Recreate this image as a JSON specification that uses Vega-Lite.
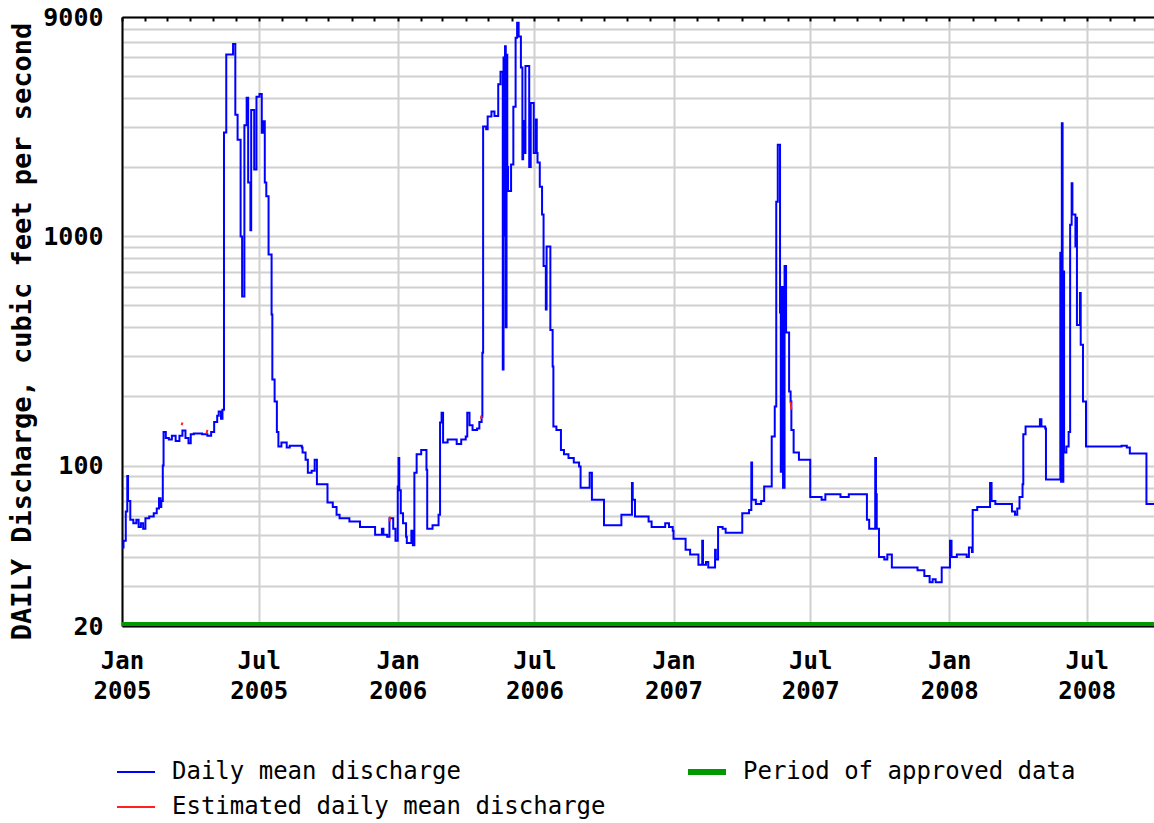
{
  "$schema": "https://vega.github.io/schema/vega-lite/v6.json",
  "width": 1032,
  "height": 609,
  "autosize": {"type": "none"},
  "padding": {"left": 122, "top": 17, "right": 0, "bottom": 197},
  "background": "white",
  "config": {
    "view": {"stroke": null},
    "font": "DejaVu Sans Mono",
    "legend": {
      "orient": "none",
      "direction": "horizontal",
      "legendX": 2,
      "legendY": 743,
      "title": null,
      "columns": 2,
      "padding": 0,
      "symbolType": "stroke",
      "symbolSize": 1444,
      "symbolStrokeWidth": 2,
      "labelFont": "DejaVu Sans Mono",
      "labelFontSize": 24,
      "labelColor": "#000000",
      "labelLimit": 800,
      "labelOffset": 24,
      "rowPadding": 11,
      "columnPadding": 70
    }
  },
  "datasets": {
    "daily": [
      {"date":"2005-01-01","q":44},{"date":"2005-01-03","q":47},{"date":"2005-01-06","q":63},{"date":"2005-01-08","q":90},{"date":"2005-01-09","q":70},{"date":"2005-01-12","q":58},{"date":"2005-01-16","q":56},{"date":"2005-01-20","q":58},{"date":"2005-01-23","q":54},{"date":"2005-01-26","q":56},{"date":"2005-01-29","q":53},
      {"date":"2005-02-01","q":59},{"date":"2005-02-06","q":60},{"date":"2005-02-12","q":62},{"date":"2005-02-16","q":65},{"date":"2005-02-19","q":72},{"date":"2005-02-21","q":66},{"date":"2005-02-22","q":70},{"date":"2005-02-24","q":100},{"date":"2005-02-25","q":140},{"date":"2005-02-28","q":132},
      {"date":"2005-03-04","q":130},{"date":"2005-03-08","q":135},{"date":"2005-03-13","q":128},{"date":"2005-03-18","q":135},{"date":"2005-03-22","q":142},{"date":"2005-03-26","q":132},{"date":"2005-03-30","q":125},
      {"date":"2005-04-02","q":137},{"date":"2005-04-06","q":138},{"date":"2005-04-17","q":137},{"date":"2005-04-24","q":135},{"date":"2005-04-29","q":140},
      {"date":"2005-05-03","q":155},{"date":"2005-05-07","q":165},{"date":"2005-05-09","q":172},{"date":"2005-05-12","q":160},{"date":"2005-05-14","q":175},{"date":"2005-05-16","q":2825},{"date":"2005-05-19","q":6180},{"date":"2005-05-28","q":6860},{"date":"2005-05-31","q":3380},
      {"date":"2005-06-03","q":2630},{"date":"2005-06-07","q":995},{"date":"2005-06-09","q":545},{"date":"2005-06-12","q":3040},{"date":"2005-06-15","q":4000},{"date":"2005-06-17","q":1710},{"date":"2005-06-20","q":1060},{"date":"2005-06-21","q":3540},{"date":"2005-06-25","q":1950},{"date":"2005-06-28","q":4040},
      {"date":"2005-07-02","q":4160},{"date":"2005-07-05","q":2820},{"date":"2005-07-07","q":3160},{"date":"2005-07-09","q":1710},{"date":"2005-07-11","q":1490},{"date":"2005-07-14","q":830},{"date":"2005-07-18","q":455},{"date":"2005-07-19","q":237},{"date":"2005-07-22","q":190},{"date":"2005-07-25","q":140},{"date":"2005-07-27","q":121},{"date":"2005-07-31","q":126},
      {"date":"2005-08-07","q":120},{"date":"2005-08-11","q":122},{"date":"2005-08-27","q":120},{"date":"2005-08-28","q":114},
      {"date":"2005-09-01","q":106},{"date":"2005-09-04","q":93},{"date":"2005-09-09","q":95},{"date":"2005-09-13","q":106},{"date":"2005-09-16","q":83},{"date":"2005-09-30","q":69},
      {"date":"2005-10-07","q":66},{"date":"2005-10-12","q":61},{"date":"2005-10-16","q":59},{"date":"2005-10-29","q":57},
      {"date":"2005-11-12","q":54},{"date":"2005-12-02","q":50},{"date":"2005-12-11","q":53},{"date":"2005-12-13","q":50},{"date":"2005-12-18","q":49},{"date":"2005-12-21","q":59},{"date":"2005-12-26","q":53},{"date":"2005-12-29","q":47},
      {"date":"2006-01-01","q":81},{"date":"2006-01-02","q":108},{"date":"2006-01-03","q":78},{"date":"2006-01-05","q":62},{"date":"2006-01-08","q":56},{"date":"2006-01-12","q":49},{"date":"2006-01-13","q":46},{"date":"2006-01-19","q":52},{"date":"2006-01-21","q":45},{"date":"2006-01-23","q":93},{"date":"2006-01-26","q":112},
      {"date":"2006-02-01","q":117},{"date":"2006-02-08","q":96},{"date":"2006-02-09","q":53},{"date":"2006-02-16","q":55},{"date":"2006-02-24","q":61},{"date":"2006-02-26","q":154},{"date":"2006-02-28","q":170},
      {"date":"2006-03-02","q":126},{"date":"2006-03-08","q":130},{"date":"2006-03-20","q":124},{"date":"2006-03-26","q":130},
      {"date":"2006-04-01","q":134},{"date":"2006-04-03","q":170},{"date":"2006-04-06","q":150},{"date":"2006-04-10","q":143},{"date":"2006-04-16","q":145},{"date":"2006-04-19","q":155},{"date":"2006-04-22","q":163},{"date":"2006-04-23","q":310},{"date":"2006-04-24","q":3000},{"date":"2006-04-28","q":2920},{"date":"2006-04-30","q":3320},
      {"date":"2006-05-05","q":3490},{"date":"2006-05-09","q":3330},{"date":"2006-05-14","q":4580},{"date":"2006-05-17","q":5200},{"date":"2006-05-20","q":262},{"date":"2006-05-21","q":6000},{"date":"2006-05-22","q":1000},{"date":"2006-05-23","q":6710},{"date":"2006-05-24","q":400},{"date":"2006-05-25","q":6170},{"date":"2006-05-26","q":2000},{"date":"2006-05-27","q":1570},{"date":"2006-05-31","q":2050},
      {"date":"2006-06-03","q":3660},{"date":"2006-06-06","q":7300},{"date":"2006-06-08","q":8500},{"date":"2006-06-10","q":7400},{"date":"2006-06-13","q":5420},{"date":"2006-06-15","q":2160},{"date":"2006-06-16","q":3170},{"date":"2006-06-17","q":2300},{"date":"2006-06-19","q":5500},{"date":"2006-06-24","q":2000},{"date":"2006-06-26","q":3800},{"date":"2006-06-30","q":2300},
      {"date":"2006-07-03","q":3220},{"date":"2006-07-04","q":2300},{"date":"2006-07-05","q":2090},{"date":"2006-07-08","q":1640},{"date":"2006-07-11","q":1240},{"date":"2006-07-13","q":740},{"date":"2006-07-16","q":478},{"date":"2006-07-17","q":900},{"date":"2006-07-22","q":390},{"date":"2006-07-25","q":270},{"date":"2006-07-26","q":148},{"date":"2006-07-30","q":143},
      {"date":"2006-08-05","q":117},{"date":"2006-08-09","q":112},{"date":"2006-08-15","q":108},{"date":"2006-08-22","q":103},{"date":"2006-08-29","q":99},{"date":"2006-08-31","q":80},
      {"date":"2006-09-12","q":93},{"date":"2006-09-15","q":71},{"date":"2006-10-01","q":55},{"date":"2006-10-24","q":61},
      {"date":"2006-11-07","q":84},{"date":"2006-11-08","q":71},{"date":"2006-11-11","q":60},{"date":"2006-11-29","q":57},{"date":"2006-12-03","q":54},{"date":"2006-12-21","q":56},{"date":"2006-12-26","q":54},{"date":"2006-12-31","q":52},
      {"date":"2007-01-01","q":48},{"date":"2007-01-17","q":43},{"date":"2007-01-23","q":41},{"date":"2007-02-03","q":37},{"date":"2007-02-08","q":47},{"date":"2007-02-09","q":37},{"date":"2007-02-13","q":38},{"date":"2007-02-16","q":36},{"date":"2007-02-25","q":43},{"date":"2007-02-26","q":39},
      {"date":"2007-03-01","q":54},{"date":"2007-03-07","q":53},{"date":"2007-03-11","q":51},{"date":"2007-04-02","q":62},{"date":"2007-04-11","q":64},{"date":"2007-04-14","q":103},{"date":"2007-04-15","q":71},{"date":"2007-04-20","q":68},{"date":"2007-04-27","q":70},
      {"date":"2007-05-01","q":81},{"date":"2007-05-11","q":134},{"date":"2007-05-15","q":181},{"date":"2007-05-17","q":1410},{"date":"2007-05-19","q":2500},{"date":"2007-05-22","q":464},{"date":"2007-05-23","q":94},{"date":"2007-05-24","q":600},{"date":"2007-05-26","q":80},{"date":"2007-05-28","q":740},{"date":"2007-05-30","q":380},
      {"date":"2007-06-03","q":210},{"date":"2007-06-05","q":190},{"date":"2007-06-06","q":143},{"date":"2007-06-09","q":114},{"date":"2007-06-16","q":106},
      {"date":"2007-07-01","q":73},{"date":"2007-07-16","q":71},{"date":"2007-07-21","q":75},{"date":"2007-08-10","q":73},{"date":"2007-08-21","q":75},
      {"date":"2007-09-14","q":58},{"date":"2007-09-17","q":53},{"date":"2007-09-25","q":108},{"date":"2007-09-26","q":75},{"date":"2007-09-27","q":53},{"date":"2007-09-30","q":40},
      {"date":"2007-10-07","q":39},{"date":"2007-10-11","q":41},{"date":"2007-10-17","q":36},{"date":"2007-11-20","q":35},{"date":"2007-11-29","q":33},{"date":"2007-12-06","q":31},{"date":"2007-12-10","q":32},{"date":"2007-12-14","q":31},{"date":"2007-12-22","q":36},
      {"date":"2008-01-02","q":47},{"date":"2008-01-04","q":40},{"date":"2008-01-11","q":41},{"date":"2008-01-24","q":40},{"date":"2008-01-27","q":44},{"date":"2008-01-31","q":42},
      {"date":"2008-02-01","q":64},{"date":"2008-02-07","q":66},{"date":"2008-02-24","q":84},{"date":"2008-02-26","q":70},
      {"date":"2008-03-02","q":68},{"date":"2008-03-24","q":63},{"date":"2008-03-28","q":61},{"date":"2008-03-31","q":65},
      {"date":"2008-04-03","q":73},{"date":"2008-04-07","q":83},{"date":"2008-04-08","q":137},{"date":"2008-04-11","q":148},{"date":"2008-04-30","q":159},{"date":"2008-05-02","q":148},{"date":"2008-05-07","q":145},{"date":"2008-05-08","q":87},
      {"date":"2008-05-27","q":845},{"date":"2008-05-28","q":85},{"date":"2008-05-29","q":3100},{"date":"2008-05-30","q":85},{"date":"2008-05-31","q":700},
      {"date":"2008-06-01","q":114},{"date":"2008-06-04","q":121},{"date":"2008-06-07","q":140},{"date":"2008-06-09","q":1120},{"date":"2008-06-11","q":1700},{"date":"2008-06-12","q":1240},{"date":"2008-06-16","q":900},{"date":"2008-06-17","q":1200},{"date":"2008-06-18","q":410},{"date":"2008-06-22","q":565},{"date":"2008-06-23","q":336},{"date":"2008-06-26","q":190},{"date":"2008-06-30","q":121},
      {"date":"2008-08-16","q":122},{"date":"2008-08-23","q":120},{"date":"2008-08-27","q":113},{"date":"2008-09-18","q":68},{"date":"2008-09-28","q":68}
    ],
    "estimated": [
      {"date":"2005-03-21","q":150,"seg":"r1"},{"date":"2005-03-22","q":154,"seg":"r1"},
      {"date":"2005-04-23","q":138,"seg":"r2"},{"date":"2005-04-24","q":143,"seg":"r2"},
      {"date":"2005-12-21","q":57,"seg":"r3"},{"date":"2005-12-22","q":60,"seg":"r3"},
      {"date":"2006-04-21","q":160,"seg":"r4"},{"date":"2006-04-22","q":165,"seg":"r4"},
      {"date":"2007-06-05","q":190,"seg":"r5"},{"date":"2007-06-06","q":175,"seg":"r5"}
    ],
    "approved": [
      {"date":"2005-01-01","q":20},{"date":"2008-09-28","q":20}
    ]
  },
  "encoding": {
    "y": {
      "field": "q",
      "type": "quantitative",
      "scale": {"type": "log", "domain": [20, 9000], "nice": false},
      "axis": {
        "values": [20,30,40,50,60,70,80,90,100,200,300,400,500,600,700,800,900,1000,2000,3000,4000,5000,6000,7000,8000,9000],
        "labelExpr": "indexof([20,100,1000,9000], datum.value) >= 0 ? format(datum.value, 'd') : ''",
        "labelOverlap": false,
        "labelFont": "DejaVu Sans Mono",
        "labelFontWeight": "bold",
        "labelFontSize": 25,
        "labelColor": "#000000",
        "labelPadding": 19,
        "ticks": false,
        "tickSize": 0,
        "grid": true,
        "gridColor": "#d0d0d0",
        "gridWidth": 2,
        "domainColor": "#000000",
        "domainWidth": 2,
        "title": "DAILY Discharge, cubic feet per second",
        "titleFont": "DejaVu Sans Mono",
        "titleFontWeight": "bold",
        "titleFontSize": 27,
        "titleColor": "#000000",
        "titleAngle": -90,
        "titleX": -100,
        "titleY": 314,
        "titleAlign": "center",
        "titleBaseline": "middle"
      }
    }
  },
  "layer": [
    {
      "data": {"name": "daily"},
      "mark": {"type": "line", "interpolate": "step-after", "strokeWidth": 2},
      "encoding": {
        "color": {
          "datum": "Daily mean discharge",
          "type": "nominal",
          "scale": {
            "domain": ["Daily mean discharge", "Period of approved data", "Estimated daily mean discharge"],
            "range": ["#0000ff", "#009900", "#ff2020"]
          },
          "legend": {
            "encode": {
              "symbols": {"update": {"strokeWidth": {"signal": "datum.label === 'Period of approved data' ? 6 : 2"}}}
            }
          }
        },
        "x": {
          "field": "date",
          "type": "temporal",
          "scale": {"type": "utc", "domain": [{"year": 2005, "month": 1, "date": 1, "utc": true}, {"year": 2008, "month": 9, "date": 28, "utc": true}]},
          "axis": {
            "orient": "bottom",
            "values": [
              {"year": 2005, "month": 1, "date": 1, "utc": true},
              {"year": 2005, "month": 7, "date": 1, "utc": true},
              {"year": 2006, "month": 1, "date": 1, "utc": true},
              {"year": 2006, "month": 7, "date": 1, "utc": true},
              {"year": 2007, "month": 1, "date": 1, "utc": true},
              {"year": 2007, "month": 7, "date": 1, "utc": true},
              {"year": 2008, "month": 1, "date": 1, "utc": true},
              {"year": 2008, "month": 7, "date": 1, "utc": true}
            ],
            "labelExpr": "[utcFormat(datum.value, '%b'), utcFormat(datum.value, '%Y')]",
            "labelFont": "DejaVu Sans Mono",
            "labelFontWeight": "bold",
            "labelFontSize": 24,
            "labelColor": "#000000",
            "labelLineHeight": 30,
            "labelBaseline": "top",
            "labelPadding": 23,
            "labelOverlap": false,
            "labelFlush": false,
            "ticks": false,
            "tickSize": 0,
            "grid": true,
            "gridColor": "#d0d0d0",
            "gridWidth": 2,
            "domainColor": "#000000",
            "domainWidth": 2,
            "title": null
          }
        }
      }
    },
    {
      "data": {"name": "approved"},
      "mark": {"type": "line", "strokeWidth": 4, "yOffset": -2, "clip": false},
      "encoding": {
        "color": {
          "datum": "Period of approved data",
          "type": "nominal",
          "scale": {
            "domain": ["Daily mean discharge", "Period of approved data", "Estimated daily mean discharge"],
            "range": ["#0000ff", "#009900", "#ff2020"]
          }
        },
        "x": {"field": "date", "type": "temporal", "axis": null}
      }
    },
    {
      "data": {"name": "estimated"},
      "mark": {"type": "line", "strokeWidth": 2},
      "encoding": {
        "color": {
          "datum": "Estimated daily mean discharge",
          "type": "nominal",
          "scale": {
            "domain": ["Daily mean discharge", "Period of approved data", "Estimated daily mean discharge"],
            "range": ["#0000ff", "#009900", "#ff2020"]
          }
        },
        "detail": {"field": "seg"},
        "x": {
          "field": "date",
          "type": "temporal",
          "axis": {
            "orient": "top",
            "tickCount": {"interval": "month", "step": 1},
            "labels": false,
            "grid": false,
            "ticks": true,
            "tickSize": -4,
            "tickWidth": 2,
            "tickColor": "#000000",
            "domainColor": "#000000",
            "domainWidth": 2,
            "title": null
          }
        }
      }
    }
  ],
  "resolve": {"axis": {"x": "independent"}}
}
